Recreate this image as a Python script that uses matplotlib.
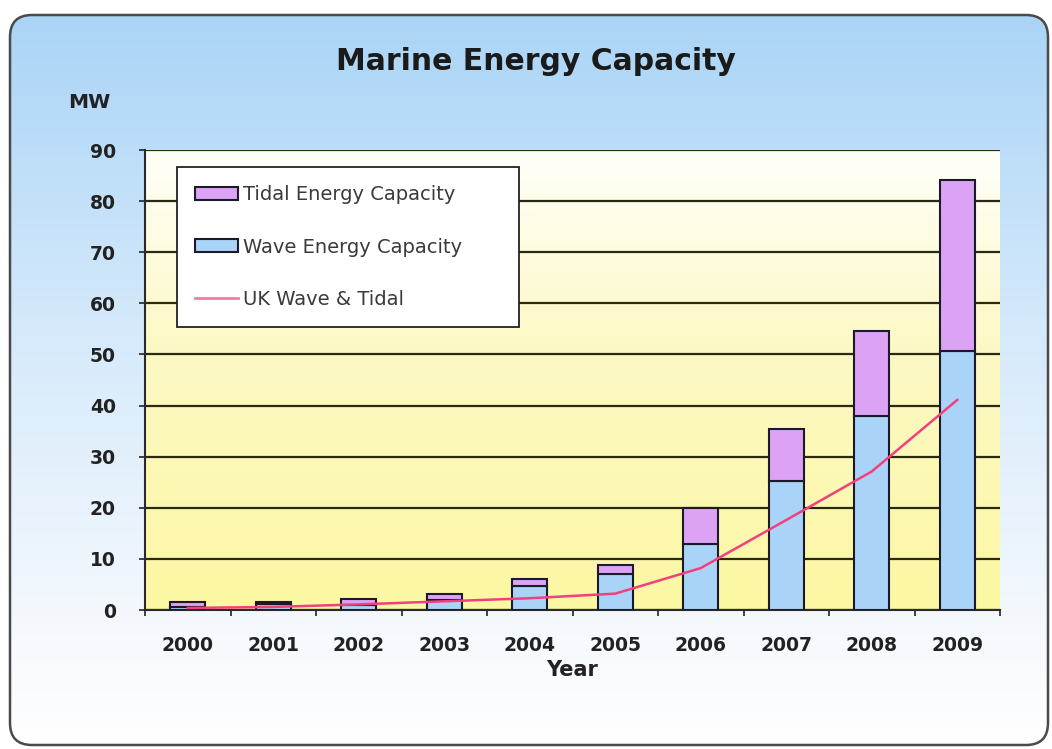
import numpy as np
import matplotlib
matplotlib.use("Agg")
import matplotlib.pyplot as plt
from matplotlib.patches import FancyBboxPatch, Patch
from matplotlib.lines import Line2D

years = ["2000", "2001", "2002", "2003", "2004", "2005", "2006", "2007", "2008", "2009"]
wave = [0.6, 1.2, 1.0, 1.9, 4.6, 7.1, 13.0, 25.2, 38.0, 50.7]
tidal = [1.0, 0.4, 1.2, 1.2, 1.4, 1.8, 6.9, 10.3, 16.5, 33.4]
uk_wave_tidal = [0.4, 0.6, 1.1, 1.7, 2.3, 3.2, 8.2, 17.6, 27.1, 41.1]

wave_color = "#a9d4f7"
tidal_color = "#dca2f4"
line_color = "#f2407e"

W, H = 1052, 749
fig = plt.figure(figsize=(W / 100, H / 100), dpi=100)
fig.patch.set_facecolor("white")

# rounded panel with blue-to-white gradient
bg = fig.add_axes([0, 0, 1, 1])
bg.set_xlim(0, W)
bg.set_ylim(H, 0)
bg.axis("off")
grad = np.linspace(0, 1, 256)[:, None]
cmap_bg = matplotlib.colors.LinearSegmentedColormap.from_list(
    "bg", [(0.0, "#a8d3f6"), (0.45, "#d6eafb"), (0.85, "#f6f9fd"), (1.0, "#ffffff")])
im = bg.imshow(grad, cmap=cmap_bg, extent=[0, W, H, 0], aspect="auto", zorder=0)
panel = FancyBboxPatch((10, 15), W - 14, H - 19, boxstyle="round,pad=0,rounding_size=22",
                       facecolor="none", edgecolor="#4a4a4a", lw=1.8, zorder=2)
bg.add_patch(panel)
im.set_clip_path(panel)

ax = fig.add_axes([145 / W, 1 - 610 / H, 855 / W, 460 / H])
ax.set_facecolor("none")
x = np.arange(len(years))
ax.set_xlim(-0.5, len(years) - 0.5)
ax.set_ylim(0, 90)

# white-to-yellow plot area
cmap_pa = matplotlib.colors.LinearSegmentedColormap.from_list(
    "pa", [(0.0, "#fcf7a2"), (0.6, "#fdf9c8"), (1.0, "#fffffa")])
ax.imshow(grad, cmap=cmap_pa, extent=[-0.5, len(years) - 0.5, 0, 90],
          aspect="auto", origin="lower", zorder=0)

ax.yaxis.grid(True, color="#2a2a10", lw=1.6, zorder=1)
ax.set_axisbelow(True)

bw = 0.41
ax.bar(x, wave, bw, color=wave_color, edgecolor="#1a1a2a", lw=1.5, zorder=3)
ax.bar(x, tidal, bw, bottom=wave, color=tidal_color, edgecolor="#1a1a2a", lw=1.5, zorder=3)
ax.plot(x, uk_wave_tidal, color=line_color, lw=1.8, zorder=4)

for s in ["top", "right"]:
    ax.spines[s].set_visible(False)
for s in ["left", "bottom"]:
    ax.spines[s].set_color("#2a2a2a")
    ax.spines[s].set_linewidth(1.5)

ax.set_yticks(np.arange(0, 91, 10))
ax.set_xticks(x)
ax.set_xticklabels(years)
ax.set_xticks(np.arange(-0.5, len(years), 1), minor=True)
ax.tick_params(axis="y", length=4, width=1.2, pad=17, labelsize=13.5, colors="#222222")
ax.tick_params(axis="x", which="major", length=0, pad=19, labelsize=13.5, colors="#222222")
ax.tick_params(axis="x", which="minor", length=4, width=1.2, color="#222222")
for lbl in ax.get_xticklabels() + ax.get_yticklabels():
    lbl.set_fontweight("bold")

ax.set_xlabel("Year", fontsize=15, fontweight="bold", color="#222222", labelpad=3)

fig.text(536 / W, 1 - 62 / H, "Marine Energy Capacity", ha="center", va="center",
         fontsize=21.5, fontweight="bold", color="#1a1a1a")
fig.text(89 / W, 1 - 103 / H, "MW", ha="center", va="center",
         fontsize=14.5, fontweight="bold", color="#222222")

handles = [
    Patch(facecolor=tidal_color, edgecolor="#1a1a2a", lw=1.5),
    Patch(facecolor=wave_color, edgecolor="#1a1a2a", lw=1.5),
    Line2D([], [], color="#f87aa4", lw=2),
]
labels = ["Tidal Energy Capacity", "Wave Energy Capacity", "UK Wave & Tidal"]
leg_x0 = 32 / 855
leg_x1 = 374 / 855
leg_top = (610 - 167) / 460
leg = ax.legend(handles, labels, loc="upper left",
                bbox_to_anchor=(leg_x0, leg_top - 0.01, leg_x1 - leg_x0, 0.01),
                mode="expand", borderaxespad=0, fontsize=14, frameon=True, fancybox=False,
                handlelength=2.2, handleheight=0.65, handletextpad=0.25,
                labelspacing=1.7, borderpad=0.95)
leg.get_frame().set_edgecolor("#222222")
leg.get_frame().set_linewidth(1.3)
leg.get_frame().set_facecolor("white")
leg.get_frame().set_alpha(1)
for t in leg.get_texts():
    t.set_color("#3a3a3a")
leg.set_zorder(5)

fig.savefig("out.png", dpi=100)
